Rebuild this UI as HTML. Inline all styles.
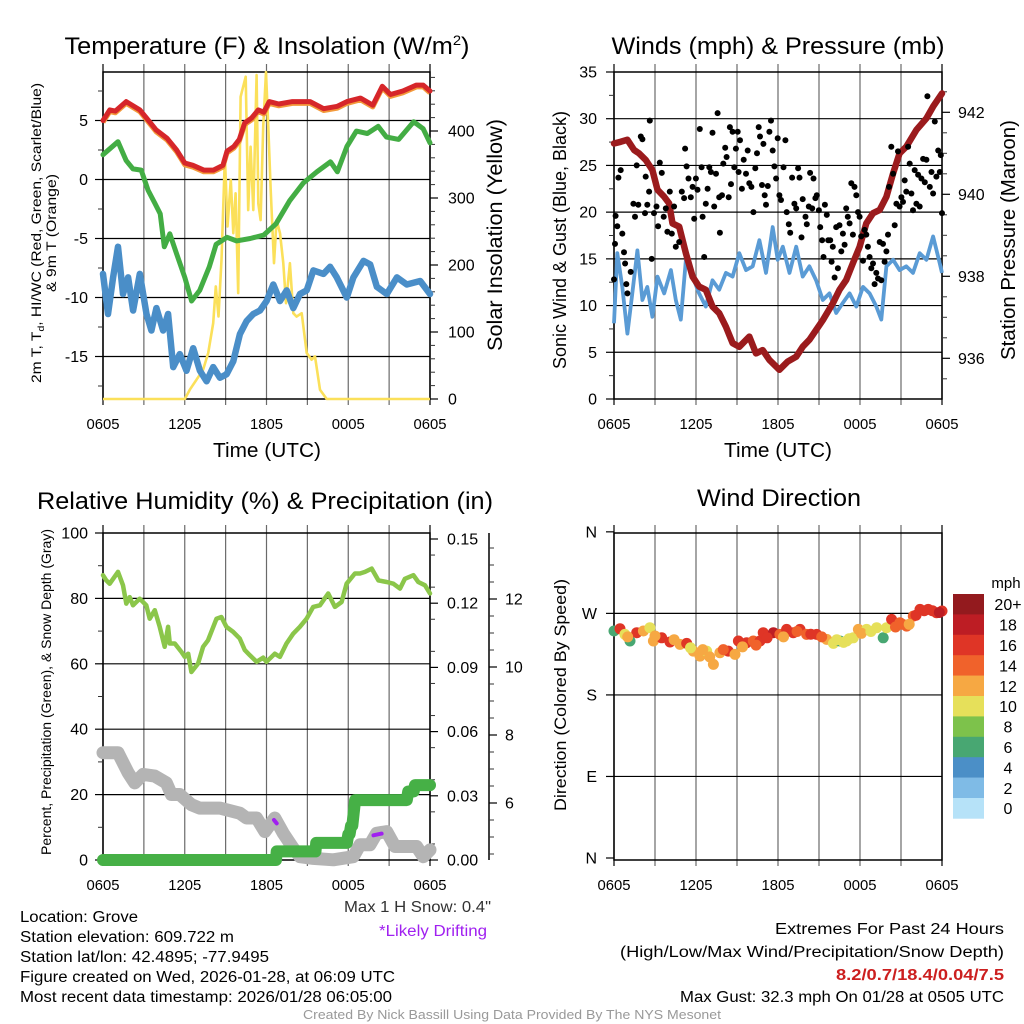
<!DOCTYPE html>
<html><head><meta charset="utf-8"><title>Mesonet Station Meteogram</title>
<style>
html,body{margin:0;padding:0;background:#fff;}
svg{display:block;font-family:"Liberation Sans",sans-serif;}
</style></head>
<body>
<svg id="chart" xmlns="http://www.w3.org/2000/svg" width="1024" height="1024" viewBox="0 0 1024 1024">
<rect x="0" y="0" width="1024" height="1024" fill="#fff"/>
<g id="p1"></g>
<g id="p2"></g>
<g id="p3"></g>
<g id="p4"></g>

<text x="267" y="54" font-size="24" text-anchor="middle" textLength="405" lengthAdjust="spacingAndGlyphs">Temperature (F) &amp; Insolation (W/m<tspan font-size="14" dy="-9">2</tspan><tspan dy="9">)</tspan></text>
<text x="778" y="54" font-size="24" text-anchor="middle" textLength="333" lengthAdjust="spacingAndGlyphs">Winds (mph) &amp; Pressure (mb)</text>
<text x="265" y="509" font-size="24" text-anchor="middle" textLength="456" lengthAdjust="spacingAndGlyphs">Relative Humidity (%) &amp; Precipitation (in)</text>
<text x="779" y="506" font-size="24" text-anchor="middle" textLength="164" lengthAdjust="spacingAndGlyphs">Wind Direction</text>

<text x="267" y="457" font-size="20" text-anchor="middle" textLength="108" lengthAdjust="spacingAndGlyphs">Time (UTC)</text>
<text x="778" y="457" font-size="20" text-anchor="middle" textLength="108" lengthAdjust="spacingAndGlyphs">Time (UTC)</text>

<text transform="translate(41,233) rotate(-90)" font-size="13.5" text-anchor="middle" textLength="300" lengthAdjust="spacingAndGlyphs">2m T, T<tspan font-size="9" dy="3">d</tspan><tspan dy="-3">, HI/WC (Red, Green, Scarlet/Blue)</tspan></text>
<text transform="translate(56,233) rotate(-90)" font-size="13.5" text-anchor="middle" textLength="118" lengthAdjust="spacingAndGlyphs">&amp; 9m T (Orange)</text>
<text transform="translate(502,235) rotate(-90)" font-size="21" text-anchor="middle" textLength="232" lengthAdjust="spacingAndGlyphs">Solar Insolation (Yellow)</text>
<text transform="translate(566,240) rotate(-90)" font-size="18" text-anchor="middle" textLength="258" lengthAdjust="spacingAndGlyphs">Sonic Wind &amp; Gust (Blue, Black)</text>
<text transform="translate(1015,240) rotate(-90)" font-size="20" text-anchor="middle" textLength="240" lengthAdjust="spacingAndGlyphs">Station Pressure (Maroon)</text>
<text transform="translate(51,692) rotate(-90)" font-size="14" text-anchor="middle" textLength="326" lengthAdjust="spacingAndGlyphs">Percent, Precipitation (Green), &amp; Snow Depth (Gray)</text>
<text transform="translate(566,695) rotate(-90)" font-size="17" text-anchor="middle" textLength="232" lengthAdjust="spacingAndGlyphs">Direction (Colored By Speed)</text>

<g font-size="15.5">
<text x="491" y="912" text-anchor="end" fill="#333" textLength="147" lengthAdjust="spacingAndGlyphs">Max 1 H Snow: 0.4"</text>
<text x="487" y="936" text-anchor="end" fill="#a020f0" textLength="108" lengthAdjust="spacingAndGlyphs">*Likely Drifting</text>
<text x="20" y="922" textLength="118" lengthAdjust="spacingAndGlyphs">Location: Grove</text>
<text x="20" y="942" textLength="214" lengthAdjust="spacingAndGlyphs">Station elevation: 609.722 m</text>
<text x="20" y="962" textLength="249" lengthAdjust="spacingAndGlyphs">Station lat/lon: 42.4895; -77.9495</text>
<text x="20" y="982" textLength="375" lengthAdjust="spacingAndGlyphs">Figure created on Wed, 2026-01-28, at 06:09 UTC</text>
<text x="20" y="1002" textLength="372" lengthAdjust="spacingAndGlyphs">Most recent data timestamp: 2026/01/28 06:05:00</text>
<text x="1004" y="934" text-anchor="end" textLength="229" lengthAdjust="spacingAndGlyphs">Extremes For Past 24 Hours</text>
<text x="1004" y="957" text-anchor="end" textLength="384" lengthAdjust="spacingAndGlyphs">(High/Low/Max Wind/Precipitation/Snow Depth)</text>
<text x="1004" y="980" text-anchor="end" fill="#cc1f1f" font-weight="bold" textLength="168" lengthAdjust="spacingAndGlyphs">8.2/0.7/18.4/0.04/7.5</text>
<text x="1004" y="1002" text-anchor="end" textLength="324" lengthAdjust="spacingAndGlyphs">Max Gust: 32.3 mph On 01/28 at 0505 UTC</text>
<text x="512" y="1019" text-anchor="middle" font-size="12.5" fill="#999" textLength="418" lengthAdjust="spacingAndGlyphs">Created By Nick Bassill Using Data Provided By The NYS Mesonet</text>
</g>
</svg>
<script>
// ===== Data =====
const xTickHours = [0, 6, 12, 18, 24];
const xTickLabels = ['0605', '1205', '1805', '0005', '0605'];

// Panel 1
const p1LeftTicks = [5, 0, -5, -10, -15];
const p1RightTicks = [0, 100, 200, 300, 400];
const tempT = [0,0.5,0.9,1.7,2.7,3.2,3.9,4.7,5.4,6.0,6.6,7.4,8.1,8.8,9.1,9.6,10.0,10.4,10.9,11.4,11.8,12.2,12.9,13.9,15.2,16.2,17.2,17.9,18.9,19.8,20.5,21.1,22.0,23.0,23.5,24];
const tempV = [5.0,5.9,5.8,6.6,5.9,5.2,4.2,3.5,2.5,1.4,1.2,0.8,0.8,1.2,2.4,2.8,3.4,4.8,5.2,5.9,5.7,6.6,6.4,6.6,6.6,6.0,6.2,6.6,6.9,6.3,7.9,7.2,7.5,8.0,8.0,7.5];
const dewT = [0,1.1,1.7,2.2,2.8,3.3,3.8,4.2,4.5,4.9,5.4,6.0,6.5,7.1,7.8,8.3,9.1,9.8,10.8,11.8,12.7,13.7,14.7,15.7,16.7,17.2,17.9,18.6,19.4,20.2,20.8,21.7,22.8,23.5,24];
const dewV = [2.1,3.2,1.6,0.9,0.8,-0.9,-2.0,-2.9,-5.7,-4.6,-6.3,-8.3,-10.3,-9.4,-7.4,-5.5,-4.9,-5.2,-5.0,-4.7,-3.75,-1.8,-0.3,0.65,1.5,0.65,2.8,4.1,3.9,4.5,3.6,3.4,4.9,4.3,3.1];
const chillT = [0,0.37,0.74,1.1,1.47,1.84,2.21,2.7,3.19,3.55,3.92,4.41,4.78,5.15,5.64,6.13,6.62,7.11,7.6,8.09,8.58,9.07,9.56,10.05,10.54,11.03,11.52,12.01,12.5,12.99,13.48,13.97,14.46,14.95,15.44,16.18,16.67,17.16,17.89,18.38,19.12,19.61,20.1,20.83,21.57,22.3,23.28,24];
const chillV = [-8.0,-11.4,-8.3,-5.7,-9.7,-8.3,-11.1,-8.0,-11.4,-12.8,-10.9,-12.8,-11.4,-15.9,-14.8,-16.2,-14.3,-16.2,-17.1,-15.9,-16.8,-16.5,-15.4,-13.1,-12.0,-11.4,-11.1,-10.3,-8.9,-10.3,-9.4,-10.9,-9.7,-9.4,-7.7,-8.0,-7.4,-8.3,-10.0,-8.3,-6.9,-7.2,-9.1,-9.7,-8.3,-8.9,-8.6,-9.7];
const solarT = [0,6.0,6.37,6.86,7.35,7.72,8.09,8.28,8.48,8.7,8.95,9.14,9.38,9.56,9.73,9.92,10.1,10.47,10.66,10.83,11.03,11.27,11.4,11.57,11.76,11.96,12.13,12.31,12.55,12.74,12.99,13.23,13.43,13.72,13.97,14.21,14.58,14.95,15.31,15.56,15.93,16.42,24];
const solarV = [0,0,13.9,28.8,43.7,68.6,113.3,168,123.2,207.7,361.7,257.4,327,247.5,307,158,451,481,282,376.6,282,483.5,292,267,406,488,406,312,202.7,267,247.5,202.7,143,202.7,128,123,128,68.6,58.6,63.6,13.9,0,0];

// Panel 2
const p2LeftTicks = [0, 5, 10, 15, 20, 25, 30, 35];
const p2RightTicks = [936, 938, 940, 942];
const presT = [0,0.49,0.98,1.47,1.83,2.32,2.81,3.18,3.67,4.03,4.28,4.77,5.26,5.75,6.23,6.72,7.21,7.7,8.19,8.68,9.17,9.9,10.39,10.88,11.37,12.1,12.71,13.33,13.81,14.3,14.79,15.28,16.01,16.5,16.99,17.48,17.97,18.46,18.95,19.44,19.93,20.42,20.9,21.39,22.13,22.86,23.35,24];
const presV = [941.24,941.28,941.33,941.08,941.0,940.84,940.59,940.11,939.94,939.78,939.29,939.21,938.56,937.99,937.75,937.67,937.26,937.1,936.77,936.37,936.28,936.53,936.12,936.2,935.96,935.72,935.92,936.04,936.28,936.45,936.69,936.93,937.34,937.67,937.91,938.32,938.72,939.29,939.54,939.62,939.94,940.51,941.0,941.16,941.57,941.85,942.14,942.46];
const windT = [0,0.24,0.61,0.98,1.34,1.71,2.08,2.44,2.81,3.18,3.67,4.16,4.52,4.89,5.26,5.75,6.23,6.72,7.21,7.7,8.19,8.68,9.17,9.66,10.15,10.64,11.12,11.61,11.98,12.35,12.84,13.33,13.81,14.3,14.79,15.28,15.77,16.26,16.75,17.24,17.73,18.22,18.7,19.19,19.56,19.93,20.42,20.9,21.39,21.88,22.37,22.86,23.35,23.84,24];
const windV = [8.1,15.6,12.0,7.0,11.3,15.9,10.6,12.0,8.8,13.1,11.3,13.8,10.6,8.5,14.9,13.1,11.3,9.9,12.7,11.7,13.5,13.1,15.6,13.8,14.2,17.0,13.5,18.4,14.9,16.3,13.5,16.3,13.1,14.2,12.7,10.6,11.3,9.2,10.3,11.3,9.9,12.0,11.3,9.9,8.5,14.2,14.9,13.8,14.2,13.5,15.6,14.9,17.4,14.5,13.5];
const gustT = [0,0.07,0.12,0.24,0.32,0.49,0.61,0.73,0.81,0.9,0.98,1.22,1.42,1.54,1.66,1.78,1.96,2.08,2.27,2.32,2.44,2.57,2.62,2.76,2.93,3.11,3.23,3.35,3.5,3.64,3.79,3.91,4.08,4.23,4.4,4.52,4.77,4.96,5.13,5.2,5.31,5.45,5.62,5.75,5.87,5.99,6.11,6.28,6.41,6.48,6.6,6.72,6.85,6.97,7.09,7.21,7.33,7.46,7.58,7.7,7.75,7.9,8.0,8.14,8.24,8.39,8.48,8.56,8.68,8.8,8.92,9.05,9.12,9.22,9.36,9.49,9.66,9.78,9.9,10.05,10.2,10.34,10.46,10.59,10.68,10.83,10.93,11.03,11.12,11.25,11.37,11.49,11.61,11.74,11.86,11.98,12.1,12.22,12.4,12.54,12.64,12.79,12.89,13.03,13.2,13.33,13.47,13.57,13.72,13.81,14.01,14.11,14.25,14.35,14.5,14.6,14.74,14.84,14.99,15.09,15.23,15.33,15.43,15.57,15.67,15.82,15.92,16.01,16.14,16.26,16.38,16.5,16.63,16.75,16.87,16.99,17.11,17.24,17.36,17.48,17.6,17.73,17.85,17.97,18.09,18.22,18.34,18.46,18.58,18.7,18.83,18.95,19.07,19.19,19.32,19.44,19.56,19.68,19.8,19.93,20.05,20.12,20.29,20.42,20.54,20.66,20.78,20.9,21.03,21.15,21.27,21.39,21.52,21.64,21.76,21.88,22.0,22.13,22.25,22.37,22.49,22.62,22.74,22.86,22.93,23.11,23.23,23.35,23.47,23.59,23.72,23.84,23.91,24];
const gustV = [12.8,16.6,19.6,18.5,23.7,24.5,17.7,15.7,14.5,12.3,11.3,13.6,20.9,19.5,25,20.8,28.1,27.8,19.9,23.8,20.8,22.2,29.8,15,19.9,20.6,18.5,25.3,24.2,19.5,20.4,17.9,22.2,17.7,20.6,16.3,16.8,22.2,21.5,26.8,24.9,23.6,21.6,22.7,19.3,23.6,22.4,28.9,24.8,19.5,15.2,20.9,22.5,24.8,24.3,28.5,20.6,24.1,30.6,21.6,17.8,21.8,25.2,26.9,25.9,21.6,29.1,23,28.6,24.8,26.8,28.6,24.3,27.7,22.5,25.6,24.1,26.6,23.1,22.7,20,24.7,26.3,29.1,28.1,22.9,27.3,21.8,20.8,22.8,28.6,29.8,26.6,24.9,23.6,27.9,21.8,21.3,24.8,27.7,20,18.7,17.8,23.7,20.9,20.4,24.7,23.7,17.3,21.4,19.5,18.7,20.6,24.2,20.4,23.6,21.5,21.8,20.2,18.4,17,15.2,20.8,19.7,17,17,14.7,16.3,13,18.4,14,18.6,15.8,17.7,16.5,20.4,19.5,18.8,23.1,17.6,22.7,21.8,20,19.5,17.4,14.8,18.1,17.6,16.3,15.2,14,14.5,12.3,13.5,12.9,16.8,12.7,16.6,14.7,15.8,17.6,22.7,27,24.1,18.6,20.9,26.5,20.6,21.6,21.1,23.4,22.2,27,25.2,22,20.2,24.5,20.9,24,20.6,23.6,25.7,23.2,25.6,32.4,22.7,24.3,22,29.7,23.8,26.6,24.3,26.1,19.9];

// Panel 3
const p3LeftTicks = [0, 20, 40, 60, 80, 100];
const p3PrecipTicks = [0.00, 0.03, 0.06, 0.09, 0.12, 0.15];
const p3PrecipLabels = ['0.00', '0.03', '0.06', '0.09', '0.12', '0.15'];
const p3SnowTicks = [6, 8, 10, 12];
const rhT = [0,0.24,0.49,1.1,1.47,1.71,1.96,2.2,2.69,3.18,3.43,3.8,4.16,4.53,4.78,4.9,5.27,5.76,6.0,6.25,6.49,6.98,7.35,7.71,8.33,8.69,9.06,9.55,10.04,10.41,10.78,11.27,11.76,12.0,12.61,12.98,13.47,13.96,14.45,14.94,15.43,15.92,16.53,17.02,17.51,17.88,18.49,18.86,19.23,19.72,20.21,20.82,21.31,21.8,22.16,22.78,23.14,23.63,24];
const rhV = [87.1,85.5,84.5,88.1,84,78.4,80.4,77.9,79.9,77.9,73.8,76.4,71.3,65.2,71.3,66.2,66.2,63.6,62.1,63.1,57.5,60.1,65.2,67.2,73.8,74.3,71.3,69.8,67.7,64.2,62.6,60.6,61.9,60.6,63.1,62.1,66.2,69.2,71.3,73.8,77.4,77.9,81.5,77.4,78.9,84.5,87.6,87.6,88.1,89.1,85.5,85,84.5,83,86,87.1,85,84,81.5];
const precipT = [0,12.7,12.75,15.6,15.65,17.9,18.0,18.1,18.2,18.3,18.5,22.3,22.4,22.8,22.9,24];
const precipV = [0,0,0.004,0.004,0.008,0.008,0.012,0.012,0.016,0.016,0.028,0.028,0.032,0.032,0.035,0.035];
const snowT = [0,1.1,1.84,2.33,2.94,3.8,4.65,5.02,5.63,6.49,7.1,8.57,10.04,10.53,11.27,11.88,12.61,13.23,13.96,14.45,15.43,16.9,18.37,18.86,19.59,20.08,20.82,21.43,23.02,23.51,24];
const snowV = [7.48,7.48,6.89,6.59,6.84,6.79,6.59,6.25,6.25,5.95,5.85,5.85,5.7,5.56,5.56,5.16,5.56,5.11,4.67,4.42,4.37,4.33,4.42,4.77,4.77,5.11,5.16,4.72,4.72,4.42,4.62];
const driftT = [[12.55, 12.75], [19.85, 20.45]];
const driftV = [[5.5, 5.4], [5.05, 5.1]];

// Panel 4
const p4Ticks = [360, 270, 180, 90, 0];
const p4TickLabels = ['N', 'W', 'S', 'E', 'N'];
const dirT = [0,0.44,0.8,1.17,1.66,2.15,2.63,2.88,3.49,4.1,4.83,5.32,5.8,6.29,6.78,7.27,7.75,8.36,8.85,9.1,9.7,10.19,10.68,10.92,11.66,12.14,12.63,13.12,13.61,14.09,14.83,15.56,16.05,16.53,17.02,17.51,17.88,18.48,19.22,19.7,19.95,20.31,20.92,21.41,21.9,22.39,22.99,23.6,24,1.0,3.0,4.4,5.6,6.5,7.0,8.0,9.4,10.4,11.2,12.4,13.4,14.4,15.2,16.3,16.8,17.2,18.1,18.8,20.6,21.1,21.6,22.1,22.7,23.3,23.8];
const dirV = [250.5,253,246.8,239.5,248.7,250.5,254.2,239.5,243.1,238.4,235.8,236.9,228.4,222.9,228.4,213.7,226.6,228.4,224.7,239.5,237.6,239.5,239.5,248.7,248.7,246.8,252.3,248.7,252.3,246.8,246.8,241.3,236.9,239.5,239.5,243.1,252.3,252.3,254.2,243.1,254.2,263.4,259.7,256,267,274.4,274.4,270.7,272.6,244,245,241,232,230,222,230,233,235,243,244,250,247,244,241,238,242,248,250,255,258,258,268,273,273,271];
const dirSpd = [7,16,10,7,16,13,10,12,16,16,12,16,12,12,10,12,13,16,13,17,17,14,17,17,19,14,16,17,16,14,16,13,10,7,10,10,13,10,10,7,10,16,14,14,14,16,17,17,16,12,13,13,10,12,12,14,12,14,16,13,15,16,14,10,11,11,12,11,15,15,13,16,17,16,18];
const cbarLabels = ['0','2','4','6','8','10','12','14','16','18','20+'];
const cbarColors = ['#b6e2f8','#7fbbe6','#4b8fc7','#48a772','#7dc24b','#e6e05a','#f6a843','#f0622b','#df3526','#bd1d24','#931a1e'];

// ===== Helpers =====
const NS = 'http://www.w3.org/2000/svg';
function mk(tag, attrs, parent) {
  const e = document.createElementNS(NS, tag);
  for (const k in attrs) e.setAttribute(k, attrs[k]);
  parent.appendChild(e);
  return e;
}
function pathD(ts, vs, fx, fy) {
  let d = '';
  for (let i = 0; i < ts.length; i++) d += (i ? 'L' : 'M') + fx(ts[i]).toFixed(1) + ',' + fy(vs[i]).toFixed(1);
  return d;
}
function colorFor(s) { let i = Math.floor(s / 2); if (i > 10) i = 10; if (i < 0) i = 0; return cbarColors[i]; }

// ===== Scales =====
const L1 = 103, R1 = 430, L2 = 614, R2 = 942;
const TOP1 = 72, BOT1 = 399, TOP3 = 533, BOT3 = 860;
const x1 = h => L1 + h * (R1 - L1) / 24;
const x2 = h => L2 + h * (R2 - L2) / 24;
const yT = v => 179.5 - v * 11.8;
const yS = v => 399 - v * 0.67;
const yW = v => 399 - v * 9.343;
const yP = p => 358.3 - (p - 936) * 41;
const yR = v => 860 - v * 3.27;
const yPr = v => 860 - v * 2140;
const ySn = s => 803 - (s - 6) * 34;
const yD = d => 858 - d * 0.906;

// ===== Frames & grids =====
function frame(g, L, R, T, B, xf, prefix) {
  for (let h = 3; h < 24; h += 3) {
    const gl = mk('line', {x1: xf(h), x2: xf(h), y1: T - 8, y2: B + 6, stroke: '#6a6a6a', 'stroke-width': 1.2}, g);
    
    
  }
  for (const h of [0, 24]) {
    const tk = mk('line', {x1: xf(h), x2: xf(h), y1: T - 8, y2: B + 6, stroke: '#000', 'stroke-width': 1.2}, g);
    
    
  }
  const r = mk('rect', {x: L, y: T, width: R - L, height: B - T, fill: 'none', stroke: '#000', 'stroke-width': 1.5}, g);
  
  
  xTickHours.forEach((h, i) => {
    const t = mk('text', {x: xf(h), y: B + 30, 'font-size': 15, 'text-anchor': 'middle', textLength: 33, lengthAdjust: 'spacingAndGlyphs'}, g);
    t.textContent = xTickLabels[i];
    
    
  });
}
function hgrid(g, L, R, y, prefix) {
  const l = mk('line', {x1: L, x2: R, y1: y, y2: y, stroke: '#000', 'stroke-width': 1.2}, g);
  
  
}
function ytick(g, x, y, len, label, anchor, lx, prefix, fs) {
  const t = mk('line', {x1: x, x2: x + len, y1: y, y2: y, stroke: '#000', 'stroke-width': 1.2}, g);
  
  
  if (label !== null) {
    const tx = mk('text', {x: lx, y: y + 5.5, 'font-size': fs || 16, 'text-anchor': anchor}, g);
    tx.textContent = label;
    
    
  }
}
function minor(g, x, y, len, prefix) {
  const t = mk('line', {x1: x, x2: x + len, y1: y, y2: y, stroke: '#333', 'stroke-width': 1}, g);
  
  
}

// ===== Panel 1 =====
const g1 = document.getElementById('p1');
frame(g1, L1, R1, TOP1, BOT1, x1, 'p1');
p1LeftTicks.forEach(v => { hgrid(g1, L1, R1, yT(v), 'p1'); ytick(g1, L1, yT(v), -8, String(v), 'end', 88, 'p1-left'); });
for (let v = -17.5; v <= 9; v += 2.5) if (v % 5 !== 0) minor(g1, L1, yT(v), -5, 'p1-left');
p1RightTicks.forEach(v => ytick(g1, R1, yS(v), 8, String(v), 'start', 448, 'p1-right'));
for (let v = 20; v <= 480; v += 20) if (v % 100 !== 0) minor(g1, R1, yS(v), 5, 'p1-right');

const solar = mk('path', {d: pathD(solarT, solarV, x1, yS), fill: 'none', stroke: '#fbe05a', 'stroke-width': 2.6, 'stroke-linejoin': 'round'}, g1);


const chill = mk('path', {d: pathD(chillT, chillV, x1, yT), fill: 'none', stroke: '#4a8ec8', 'stroke-width': 6.5, 'stroke-linejoin': 'round', 'stroke-linecap': 'round'}, g1);


const dew = mk('path', {d: pathD(dewT, dewV, x1, yT), fill: 'none', stroke: '#43ad44', 'stroke-width': 5, 'stroke-linejoin': 'round', 'stroke-linecap': 'round'}, g1);


const t9 = mk('path', {d: pathD(tempT, tempV.map(v => v - 0.15), x1, yT), fill: 'none', stroke: '#f39a3b', 'stroke-width': 5, 'stroke-linejoin': 'round'}, g1);


const t2 = mk('path', {d: pathD(tempT, tempV, x1, yT), fill: 'none', stroke: '#d6262a', 'stroke-width': 5, 'stroke-linejoin': 'round', 'stroke-linecap': 'round'}, g1);



// ===== Panel 2 =====
const g2 = document.getElementById('p2');
frame(g2, L2, R2, TOP1, BOT1, x2, 'p2');
p2LeftTicks.forEach(v => { if (v > 0 && v < 35) hgrid(g2, L2, R2, yW(v), 'p2'); ytick(g2, L2, yW(v), -8, String(v), 'end', 597, 'p2-left'); });
for (let v = 2.5; v < 35; v += 5) minor(g2, L2, yW(v), -5, 'p2-left');
p2RightTicks.forEach(v => ytick(g2, R2, yP(v), 8, String(v), 'start', 958, 'p2-right'));
for (let v = 935.5; v < 943; v += 0.5) if (v % 2 !== 0) minor(g2, R2, yP(v), 5, 'p2-right');

const wind = mk('path', {d: pathD(windT, windV, x2, yW), fill: 'none', stroke: '#5a9bd5', 'stroke-width': 3.8, 'stroke-linejoin': 'round'}, g2);


const pres = mk('path', {d: pathD(presT, presV, x2, yP), fill: 'none', stroke: '#9b1b1d', 'stroke-width': 6.5, 'stroke-linejoin': 'round', 'stroke-linecap': 'round'}, g2);


const gg = mk('g', {}, g2);


gustT.forEach((h, i) => {
  const c = mk('circle', {cx: x2(h).toFixed(1), cy: yW(gustV[i]).toFixed(1), r: 3, fill: '#000'}, gg);
  
  
});

// ===== Panel 3 =====
const g3 = document.getElementById('p3');
frame(g3, L1, R1, TOP3, BOT3, x1, 'p3');
p3LeftTicks.forEach(v => { if (v > 0 && v < 100) hgrid(g3, L1, R1, yR(v), 'p3'); ytick(g3, L1, yR(v), -8, String(v), 'end', 88, 'p3-left'); });
for (let v = 10; v < 100; v += 20) minor(g3, L1, yR(v), -5, 'p3-left');
p3PrecipTicks.forEach((v, i) => ytick(g3, R1, yPr(v), 8, p3PrecipLabels[i], 'start', 447, 'p3-precip'));
for (let v = 0.0075; v < 0.153; v += 0.015) minor(g3, R1, yPr(v), 5, 'p3-precip');
const sAx = mk('line', {x1: 489, x2: 489, y1: TOP3, y2: BOT3, stroke: '#000', 'stroke-width': 1.5}, g3);


p3SnowTicks.forEach(v => ytick(g3, 489, ySn(v), 8, String(v), 'start', 505, 'p3-snow'));
for (let v = 4.5; v < 14; v += 0.5) if (v % 2 !== 0) minor(g3, 489, ySn(v), 5, 'p3-snow');

const snow = mk('path', {d: pathD(snowT, snowV, x1, ySn), fill: 'none', stroke: '#b4b4b4', 'stroke-width': 13, 'stroke-linejoin': 'round', 'stroke-linecap': 'round'}, g3);


driftT.forEach((ts, i) => {
  const d = mk('path', {d: pathD(ts, driftV[i], x1, ySn), fill: 'none', stroke: '#a020f0', 'stroke-width': 4, 'stroke-linecap': 'round'}, g3);
  
  
});
const prec = mk('path', {d: pathD(precipT, precipV, x1, yPr), fill: 'none', stroke: '#46b046', 'stroke-width': 12, 'stroke-linejoin': 'round', 'stroke-linecap': 'round'}, g3);


const rh = mk('path', {d: pathD(rhT, rhV, x1, yR), fill: 'none', stroke: '#8bc64a', 'stroke-width': 4.5, 'stroke-linejoin': 'round', 'stroke-linecap': 'round'}, g3);



// ===== Panel 4 =====
const g4 = document.getElementById('p4');
frame(g4, L2, R2, TOP3, BOT3, x2, 'p4');
p4Ticks.forEach((d, i) => { if (d > 0 && d < 360) hgrid(g4, L2, R2, yD(d), 'p4'); ytick(g4, L2, yD(d), -8, p4TickLabels[i], 'end', 597, 'p4-left'); });
const dg = mk('g', {}, g4);


dirT.forEach((h, i) => {
  const c = mk('circle', {cx: x2(h).toFixed(1), cy: yD(dirV[i]).toFixed(1), r: 5.5, fill: colorFor(dirSpd[i])}, dg);
  
  
});
// colorbar
const cb = mk('g', {}, g4);


const cbTop = 594, cbH = 20.4;
cbarLabels.forEach((lab, i) => {
  const idx = 10 - i;
  const r = mk('rect', {x: 953, y: cbTop + i * cbH, width: 31, height: cbH + 0.3, fill: cbarColors[idx]}, cb);
  
  
  const t = mk('text', {x: 1008, y: cbTop + i * cbH + cbH / 2 + 6, 'font-size': 16, 'text-anchor': 'middle'}, cb);
  t.textContent = cbarLabels[idx];
  
  
});
const mph = mk('text', {x: 1006, y: 588, 'font-size': 15, 'text-anchor': 'middle'}, cb);
mph.textContent = 'mph';


</script>
</body></html>
